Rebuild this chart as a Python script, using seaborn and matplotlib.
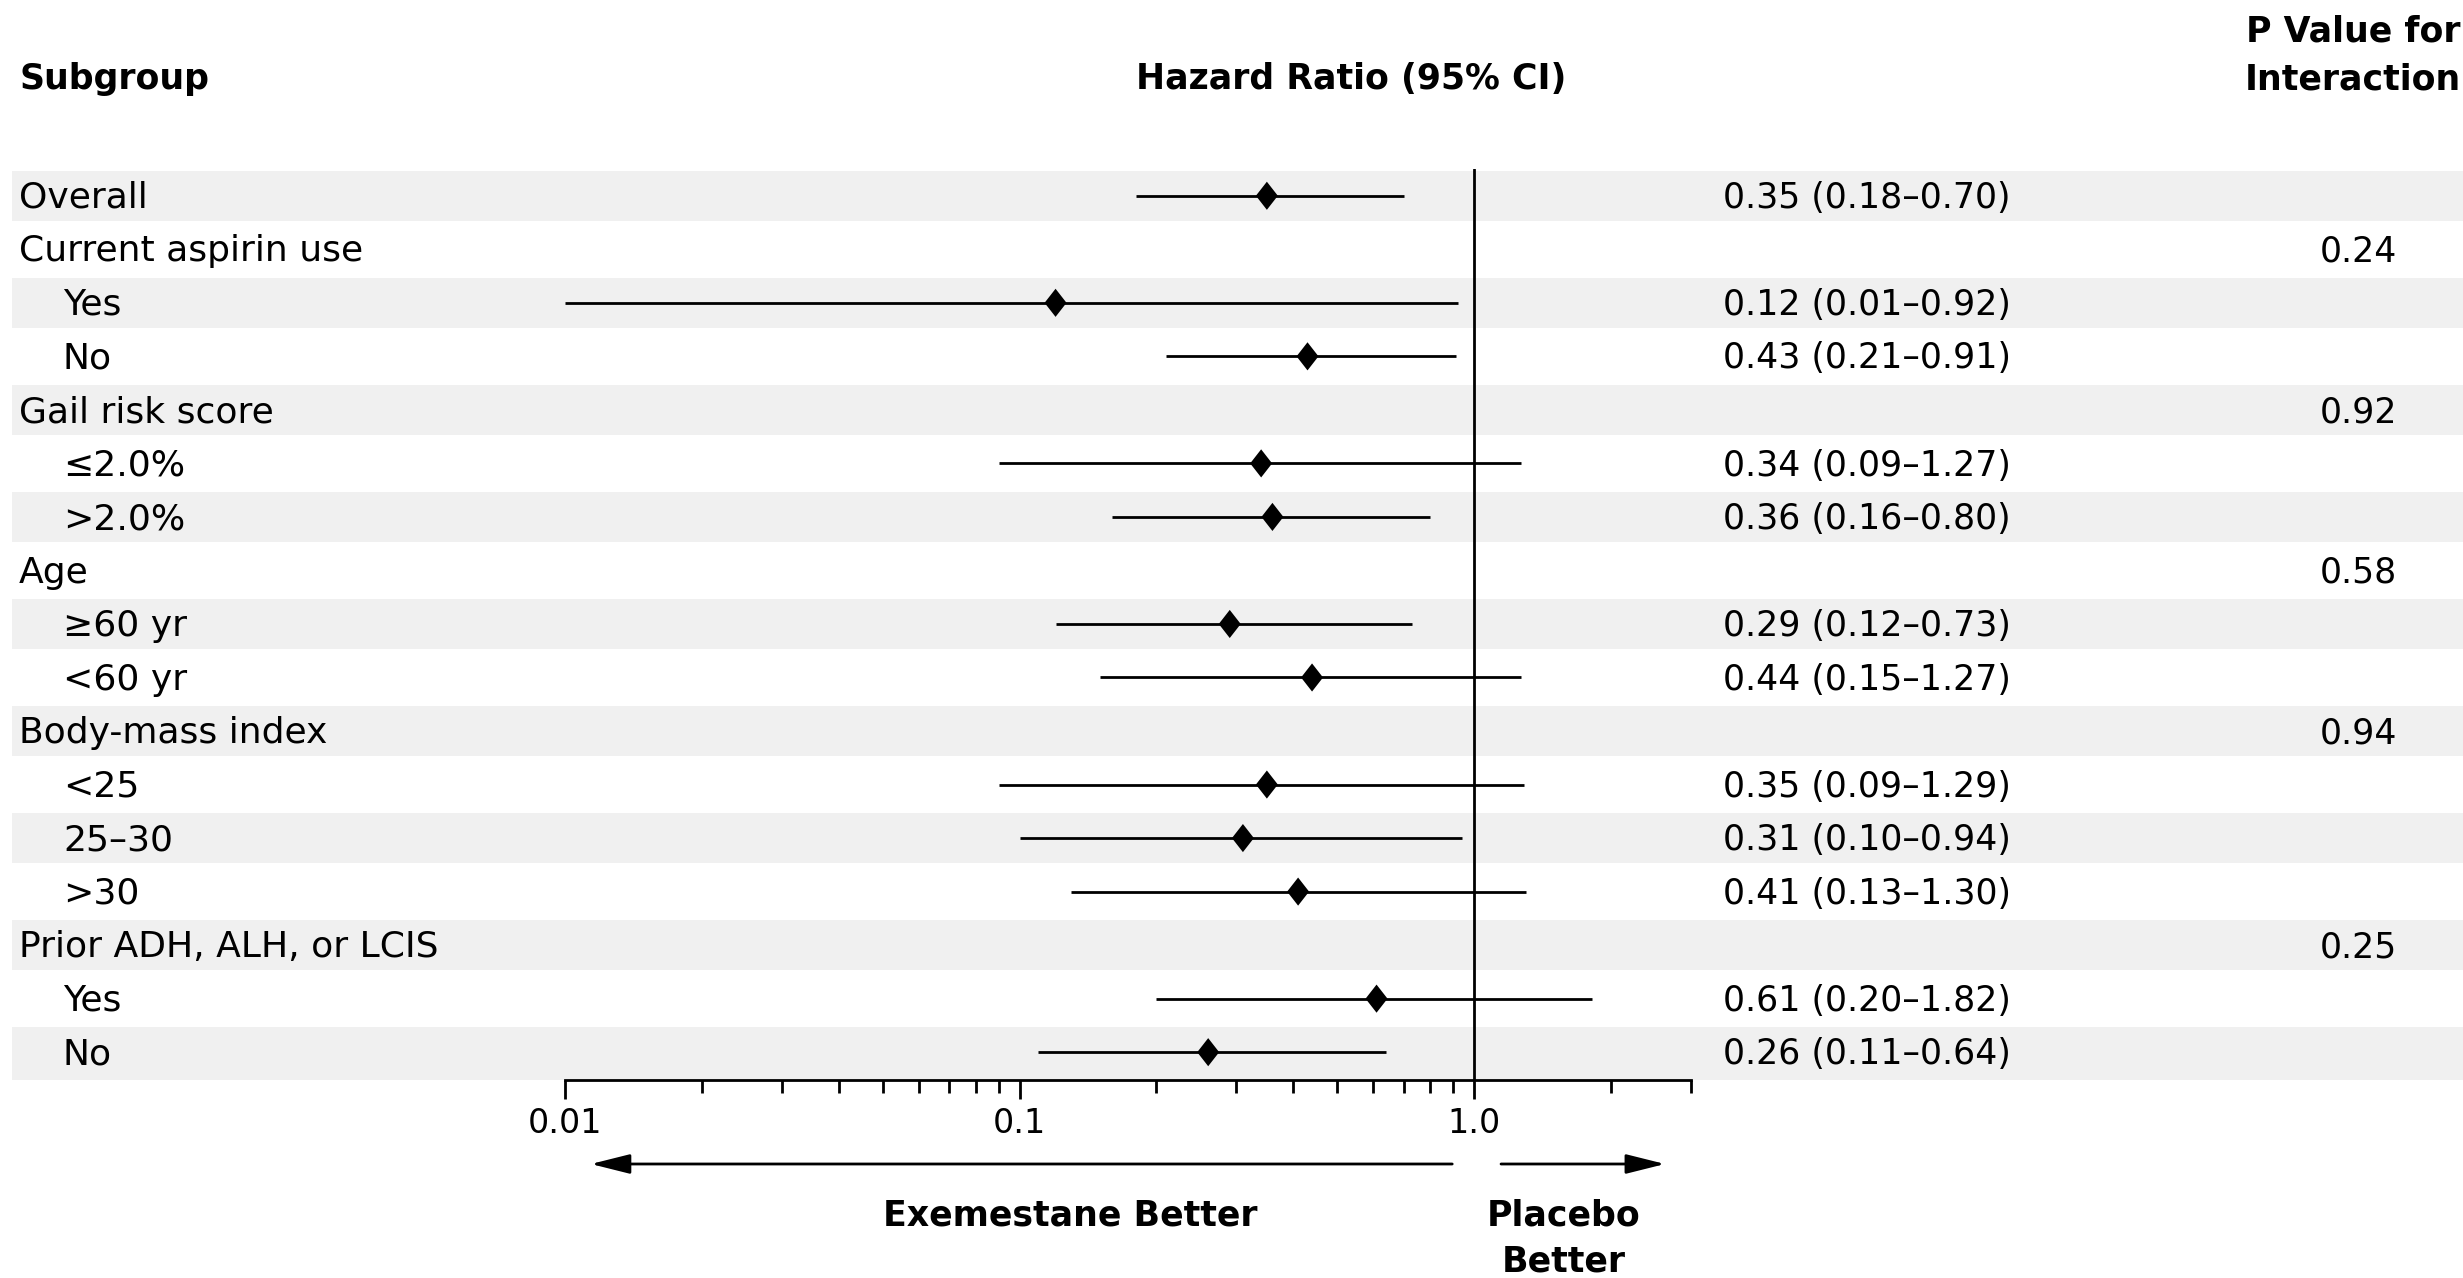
import numpy as np
import pandas as pd
import matplotlib.pyplot as plt
import matplotlib.transforms as mtransforms
from matplotlib.patches import Rectangle
from matplotlib.ticker import FixedLocator, FixedFormatter, LogLocator, NullFormatter
import seaborn as sns

# rows of the forest plot, top to bottom
subgroups = ["Overall", "Current aspirin use", "Yes", "No", "Gail risk score",
             "\u22642.0%", ">2.0%", "Age", "\u226560 yr", "<60 yr",
             "Body-mass index", "<25", "25\u201330", ">30",
             "Prior ADH, ALH, or LCIS", "Yes", "No"]
indented = [False, False, True, True, False, True, True, False, True, True,
            False, True, True, True, False, True, True]

# hazard ratios and 95% CI (None for heading rows)
hr = [0.35, None, 0.12, 0.43, None, 0.34, 0.36, None, 0.29, 0.44,
      None, 0.35, 0.31, 0.41, None, 0.61, 0.26]
ci_low = [0.18, None, 0.01, 0.21, None, 0.09, 0.16, None, 0.12, 0.15,
          None, 0.09, 0.10, 0.13, None, 0.20, 0.11]
ci_high = [0.70, None, 0.92, 0.91, None, 1.27, 0.80, None, 0.73, 1.27,
           None, 1.29, 0.94, 1.30, None, 1.82, 0.64]

p_interaction = [None, "0.24", None, None, "0.92", None, None, "0.58", None, None,
                 "0.94", None, None, None, "0.25", None, None]

tick_values = [0.01, 0.1, 1.0]
tick_labels = ["0.01", "0.1", "1.0"]

W, H = 2463, 1278

sns.set_style("white")
plt.rcParams["font.family"] = ["DejaVu Sans"]
plt.rcParams["text.color"] = "black"
plt.rcParams["xtick.color"] = "black"
plt.rcParams["xtick.labelcolor"] = "black"

fig = plt.figure(figsize=(W / 100, H / 100), dpi=100)
ax = fig.add_axes([565 / W, 1 - 1080 / H, (1691 - 565) / W, (1080 - 169) / H])
ax.patch.set_visible(False)

n = len(subgroups)
ax.set_xscale("log")
ax.set_xlim(0.01, 3)
ax.set_ylim(n - 0.48, -0.5)

row_tf = mtransforms.blended_transform_factory(fig.transFigure, ax.transData)

# alternating shaded bands across the whole width
for i in range(0, n, 2):
    top = i - 0.47
    height = 0.94 if i < n - 1 else (n - 0.48) - top
    ax.add_patch(Rectangle((12 / W, top), 1 - 12 / W, height, transform=row_tf,
                           facecolor="#f0f0f0", edgecolor="none",
                           clip_on=False, zorder=0))

df = pd.DataFrame({"row": np.arange(n), "hr": hr, "lo": ci_low, "hi": ci_high})
est = df.dropna()

ax.axvline(1.0, color="black", lw=2, zorder=1)
ax.hlines(est["row"], est["lo"], est["hi"], color="black", lw=2, zorder=2)
diamond = [(-0.39, 0), (0, 0.5), (0.39, 0), (0, -0.5), (-0.39, 0)]
sns.scatterplot(data=est, x="hr", y="row", marker=diamond, s=410,
                color="black", edgecolor="none", ax=ax, zorder=3, legend=False)

# axis styling
for side in ["top", "left", "right"]:
    ax.spines[side].set_visible(False)
ax.spines["bottom"].set_linewidth(2)
ax.spines["bottom"].set_color("black")
ax.set_yticks([])
ax.set_xlabel("")
ax.set_ylabel("")
ax.xaxis.set_major_locator(FixedLocator(tick_values))
ax.xaxis.set_major_formatter(FixedFormatter(tick_labels))
ax.xaxis.set_minor_locator(LogLocator(base=10, subs=np.arange(2, 10)))
ax.xaxis.set_minor_formatter(NullFormatter())
ax.tick_params(axis="x", which="major", direction="out", length=13.5, width=2,
               color="black", labelcolor="black", labelsize=24, pad=6,
               bottom=True)
ax.tick_params(axis="x", which="minor", direction="out", length=9.5, width=2,
               color="black", bottom=True)

# row texts
for i in range(n):
    x = 63 / W if indented[i] else 19 / W
    ax.text(x, i + 0.04, subgroups[i], transform=row_tf, ha="left",
            va="center", fontsize=26)
    if hr[i] is not None:
        s = f"{hr[i]:.2f} ({ci_low[i]:.2f}\u2013{ci_high[i]:.2f})"
        ax.text(1723 / W, i + 0.04, s, transform=row_tf, ha="left",
                va="center", fontsize=25)
    if p_interaction[i] is not None:
        ax.text(2358 / W, i + 0.04, p_interaction[i], transform=row_tf,
                ha="center", va="center", fontsize=25)

# headers
fig.text(19 / W, 1 - 79 / H, "Subgroup", ha="left", va="center",
         fontsize=25, fontweight="bold")
fig.text(1351 / W, 1 - 79 / H, "Hazard Ratio (95% CI)", ha="center",
         va="center", fontsize=25, fontweight="bold")
fig.text(2353 / W, 1 - 31 / H, "P Value for", ha="center", va="center",
         fontsize=25, fontweight="bold")
fig.text(2353 / W, 1 - 79 / H, "Interaction", ha="center", va="center",
         fontsize=25, fontweight="bold")

# direction arrows under the axis
arrow_tf = mtransforms.blended_transform_factory(ax.transData, fig.transFigure)
arrow_y = 1 - 1164 / H
style = dict(arrowstyle="-|>,head_length=1.2,head_width=0.3", lw=2,
             color="black", mutation_scale=20, shrinkA=0, shrinkB=0)
ax.annotate("", xy=(0.0114, arrow_y), xytext=(0.895, arrow_y),
            xycoords=arrow_tf, textcoords=arrow_tf, arrowprops=style)
ax.annotate("", xy=(2.63, arrow_y), xytext=(1.146, arrow_y),
            xycoords=arrow_tf, textcoords=arrow_tf, arrowprops=style)

fig.text(1070 / W, 1 - 1215 / H, "Exemestane Better", ha="center",
         va="center", fontsize=25, fontweight="bold")
fig.text(1564 / W, 1 - 1215 / H, "Placebo", ha="center", va="center",
         fontsize=25, fontweight="bold")
fig.text(1564 / W, 1 - 1262 / H, "Better", ha="center", va="center",
         fontsize=25, fontweight="bold")

fig.savefig("out.png", dpi=100)
